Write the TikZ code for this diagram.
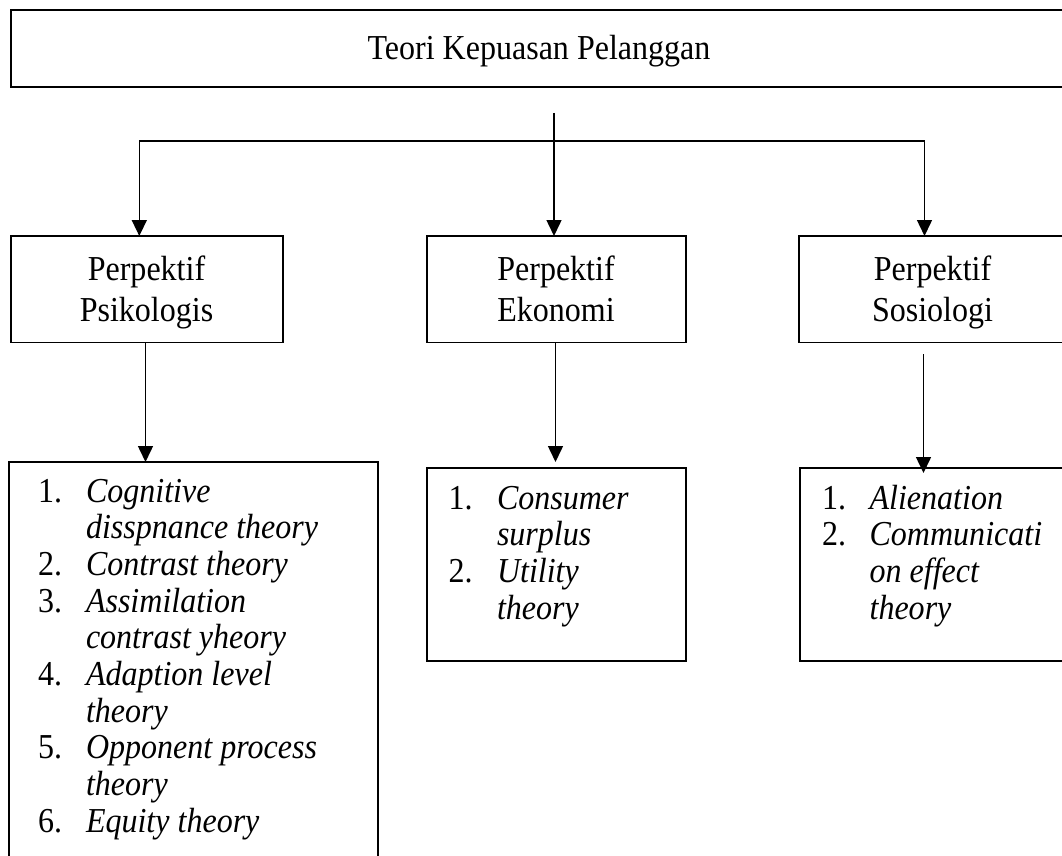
\documentclass[tikz,border=0pt]{standalone}
\usepackage{fontspec}
\setmainfont{Liberation Serif}[FakeStretch=0.915]
\usetikzlibrary{arrows.meta}
\begin{document}
\begin{tikzpicture}[x=1pt,y=-1pt,
  box/.style={draw, line width=1.8pt, rectangle, inner sep=0pt, outer sep=0pt},
  conn/.style={line width=1.5pt},
  arr/.style={conn, -{Triangle[length=16pt,width=15pt]}},
  biarr/.style={conn, {Triangle[length=16pt,width=15pt]}-{Triangle[length=16pt,width=15pt]}},
  txt/.style={inner sep=0pt, outer sep=0pt, font=\fontsize{35}{36.7}\selectfont},
  ptxt/.style={inner sep=0pt, outer sep=0pt, font=\fontsize{35}{41}\selectfont}]
\clip (0,0) rectangle (1062,856);
\fill[white] (0,0) rectangle (1062,856);

% top box
\node[box, minimum width=1056pt, minimum height=77pt] (top) at (539,48.5) {};
\node[txt, anchor=base] (topt) at (539,60) {Teori Kepuasan Pelanggan};

% perspective boxes
\node[box, minimum width=272pt, minimum height=106.5pt] (psi) at (147,289.25) {};
\node[box, minimum width=259pt, minimum height=106.5pt] (eko) at (556.5,289.25) {};
\node[box, minimum width=267pt, minimum height=106.5pt] (sos) at (932.5,289.25) {};
\node[ptxt, anchor=base] (psit) at (146.5,280) {\begin{tabular}[t]{@{}c@{}}Perpektif\\Psikologis\end{tabular}};
\node[ptxt, anchor=base] (ekot) at (556,280) {\begin{tabular}[t]{@{}c@{}}Perpektif\\Ekonomi\end{tabular}};
\node[ptxt, anchor=base] (sost) at (932.5,280) {\begin{tabular}[t]{@{}c@{}}Perpektif\\Sosiologi\end{tabular}};

% list boxes
\node[box, minimum width=369pt, minimum height=418pt] (l1) at (193.5,671) {};
\node[box, minimum width=259pt, minimum height=193pt] (l2) at (556.5,564.5) {};
\node[box, minimum width=266pt, minimum height=193pt] (l3) at (933,564.5) {};

\node[txt, anchor=base west] (l1t) at (38,502) {\begin{tabular}[t]{@{}p{48pt}@{}l@{}}
1. & \textit{Cognitive}\\
   & \textit{disspnance theory}\\
2. & \textit{Contrast theory}\\
3. & \textit{Assimilation}\\
   & \textit{contrast yheory}\\
4. & \textit{Adaption level}\\
   & \textit{theory}\\
5. & \textit{Opponent process}\\
   & \textit{theory}\\
6. & \textit{Equity theory}
\end{tabular}};
\node[txt, anchor=base west] (l2t) at (448.6,509) {\begin{tabular}[t]{@{}p{48.4pt}@{}l@{}}
1. & \textit{Consumer}\\
   & \textit{surplus}\\
2. & \textit{Utility}\\
   & \textit{theory}
\end{tabular}};
\node[txt, anchor=base west] (l3t) at (822,509) {\begin{tabular}[t]{@{}p{47.6pt}@{}l@{}}
1. & \textit{Alienation}\\
2. & \textit{Communicati}\\
   & \textit{on effect}\\
   & \textit{theory}
\end{tabular}};

% connectors
\coordinate (s0) at (554,113);
\draw[arr] (s0) -- (s0 |- eko.north);
\coordinate (bl) at (139.3,141);
\coordinate (br) at (924.5,141);
\draw[biarr] (bl |- psi.north) -- (bl) -- (br) -- (br |- sos.north);

\coordinate (p1) at ([xshift=-1.5pt]psi.south);
\draw[arr] (p1) -- (p1 |- l1.north);
\coordinate (e1) at ([xshift=-1pt]eko.south);
\draw[arr, shorten >=6pt] (e1) -- (e1 |- l2.north);
\coordinate (so1) at ([xshift=-9pt]sos.south);
\draw[arr, shorten <=11.5pt, shorten >=-5pt] (so1) -- (so1 |- l3.north);
\end{tikzpicture}
\end{document}
